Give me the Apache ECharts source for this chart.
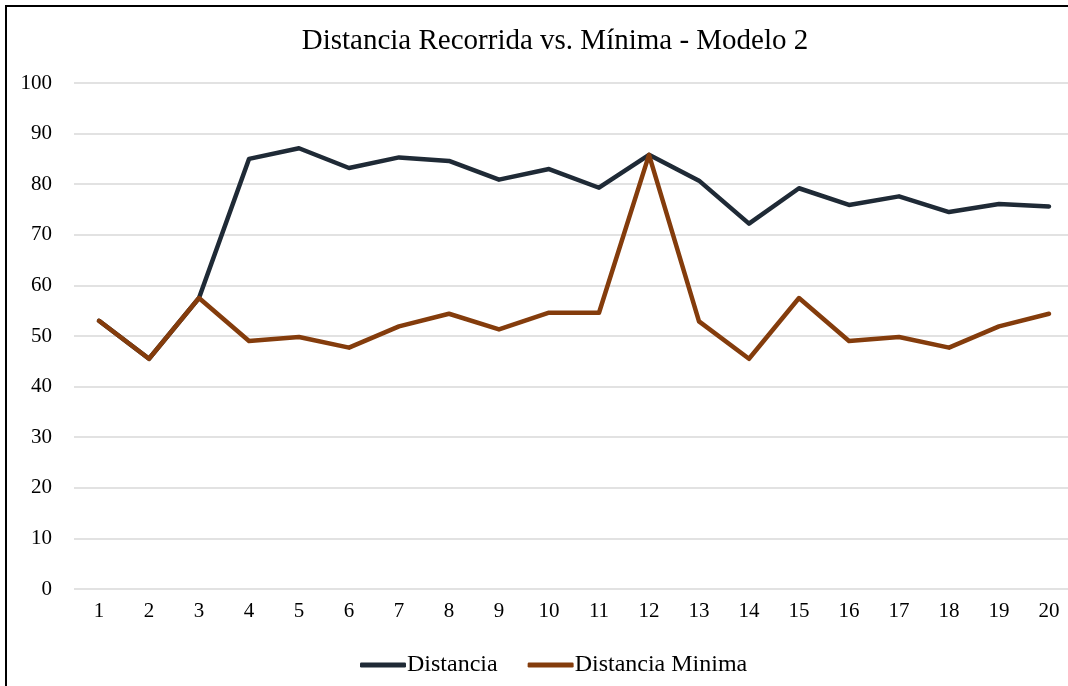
<!DOCTYPE html>
<html>
<head>
<meta charset="utf-8">
<script src="https://cdn.jsdelivr.net/npm/echarts@6/dist/echarts.min.js"></script>
<style>
  html, body { margin: 0; padding: 0; background: #fff; overflow: hidden; }
  #frame { position: absolute; left: 5px; top: 5px; width: 1080px; height: 700px;
           border-left: 2px solid #000; border-top: 2px solid #000; }
  #chart { position: absolute; left: 0; top: 0; width: 1080px; height: 686px; }
</style>
</head>
<body>
<div id="frame"></div>
<div id="chart"></div>
<script>
// Run numbers on the x axis
const categories = ['1','2','3','4','5','6','7','8','9','10','11','12','13','14','15','16','17','18','19','20'];
// Distance travelled per run
const distancia = [53.0, 45.5, 57.5, 85.0, 87.1, 83.2, 85.3, 84.6, 80.9, 83.0, 79.3, 85.8, 80.7, 72.2, 79.2, 75.9, 77.6, 74.5, 76.1, 75.6];
// Minimum distance per run
const distanciaMinima = [53.0, 45.5, 57.5, 49.0, 49.8, 47.7, 51.9, 54.4, 51.3, 54.6, 54.6, 85.8, 52.9, 45.5, 57.5, 49.0, 49.8, 47.7, 51.9, 54.4];

const serif = '"Liberation Serif", "DejaVu Serif", serif';
const chart = echarts.init(document.getElementById('chart'), null, { renderer: 'canvas' });
chart.setOption({
  animation: false,
  backgroundColor: 'transparent',
  title: {
    text: 'Distancia Recorrida vs. Mínima - Modelo 2',
    left: 550, top: 22, textAlign: 'center',
    textStyle: { fontFamily: serif, fontSize: 29, fontWeight: 'normal', color: '#000' }
  },
  legend: {
    bottom: 4, left: 355,
    itemWidth: 46, itemHeight: 5, itemGap: 30,
    icon: 'roundRect',
    textStyle: { fontFamily: serif, fontSize: 24, color: '#000', padding: [0, 0, 0, -4] },
    data: ['Distancia', 'Distancia Minima']
  },
  grid: { left: 74, right: 6, top: 83, bottom: 97 },
  xAxis: {
    type: 'category',
    data: categories,
    boundaryGap: true,
    axisLine: { show: false },
    axisTick: { show: false },
    axisLabel: { fontFamily: serif, fontSize: 21, color: '#000', margin: 12 }
  },
  yAxis: {
    type: 'value',
    min: 0, max: 100, interval: 10,
    axisLine: { show: false },
    axisTick: { show: false },
    axisLabel: { fontFamily: serif, fontSize: 21, color: '#000', margin: 22 },
    splitLine: { lineStyle: { color: '#d9d9d9', width: 1.5 } }
  },
  series: [
    {
      name: 'Distancia', type: 'line', data: distancia,
      showSymbol: false, symbol: 'none',
      lineStyle: { color: '#1f2a36', width: 4.5, cap: 'round', join: 'round' },
      itemStyle: { color: '#1f2a36' }
    },
    {
      name: 'Distancia Minima', type: 'line', data: distanciaMinima,
      showSymbol: false, symbol: 'none',
      lineStyle: { color: '#843c0c', width: 4.5, cap: 'round', join: 'round' },
      itemStyle: { color: '#843c0c' }
    }
  ]
});
</script>
</body>
</html>
